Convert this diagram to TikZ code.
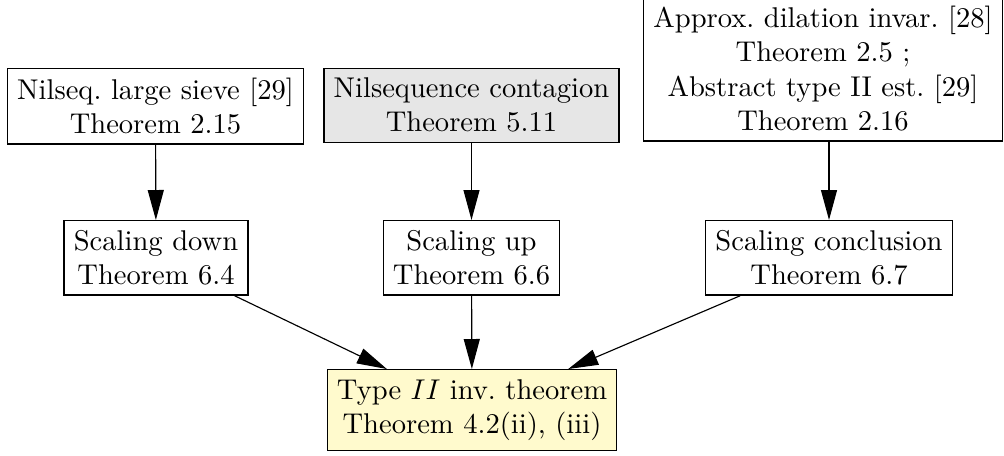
\documentclass[tikz,border=0pt]{standalone}
\usetikzlibrary{arrows.meta}
\definecolor{boxgray}{RGB}{230,230,230}
\definecolor{boxyellow}{RGB}{255,250,205}
\tikzset{
  thm/.style={draw, line width=0.45pt, align=center, inner xsep=3.4pt, inner ysep=3.4pt},
  conn/.style={line width=0.4pt, -{Triangle[length=10.5pt,width=5.6pt]}},
}
\begin{document}
\begin{tikzpicture}[x=0.35pt, y=-0.35pt]
\clip (0,0) rectangle (1004,455);
\useasboundingbox (0,0) rectangle (1004,455);
\node[thm, anchor=north] (A) at (155.5,67.5) {Nilseq.\ large sieve [29]\\Theorem 2.15};
\node[thm, anchor=north, fill=boxgray] (B) at (471.5,67.5) {Nilsequence contagion\\Theorem 5.11};
\node[thm, anchor=south] (C) at (823,141.5) {Approx.\ dilation invar.\ [28]\\Theorem 2.5 ;\\Abstract type II est.\ [29]\\Theorem 2.16};
\node[thm, anchor=north] (SD) at (156,220) {Scaling down\\Theorem 6.4};
\node[thm, anchor=north] (SU) at (471.5,220) {Scaling up\\Theorem 6.6};
\node[thm, anchor=north] (SC) at (829,220) {Scaling conclusion\\Theorem 6.7};
\node[thm, anchor=north, fill=boxyellow] (T) at (472,369) {Type $II$ inv.\ theorem\\Theorem 4.2(ii), (iii)};
\draw[conn] (A) -- (SD);
\draw[conn] (B) -- (SU);
\draw[conn] (C.south -| SC.north) -- (SC.north);
\draw[conn] (SD) -- (T);
\draw[conn] (SU) -- (T);
\draw[conn] (SC) -- (T);
\end{tikzpicture}
\end{document}
